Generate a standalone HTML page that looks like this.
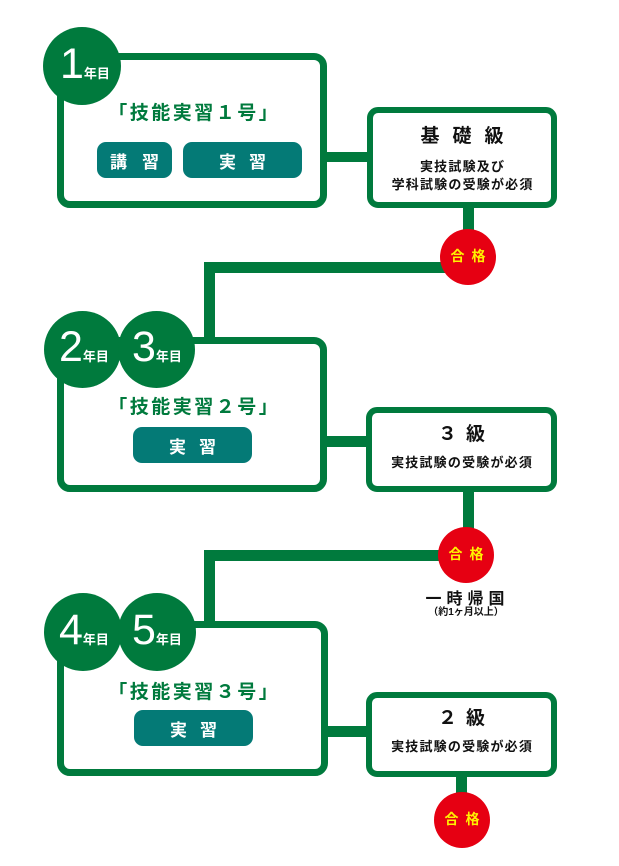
<!DOCTYPE html>
<html><head><meta charset="utf-8">
<style>
*{margin:0;padding:0;box-sizing:border-box}
html,body{width:619px;height:866px;background:#fff;overflow:hidden}
body{position:relative;font-family:"Liberation Sans","Noto Sans CJK JP",sans-serif}
.g{position:absolute;background:#007a3d}
.box{position:absolute;border:7px solid #007a3d;border-radius:13px;background:#fff}
.sbox{position:absolute;border:6px solid #007a3d;border-radius:11px;background:#fff}
.c{position:absolute;border-radius:50%;background:#007a3d}
.yr{position:absolute;height:43px;line-height:43px;font-size:43px;color:#fff;white-space:nowrap;font-family:"Liberation Sans",sans-serif}
.yr span{font-family:"Liberation Sans","Noto Sans CJK JP",sans-serif;font-size:13px;font-weight:bold;line-height:1}
.ttl{position:absolute;left:57px;width:272px;height:24px;line-height:24px;text-align:center;color:#007a3d;font-weight:bold;font-size:19px;letter-spacing:2.5px;padding-left:2.5px;white-space:nowrap}
.btn{position:absolute;height:36px;border-radius:9px;background:#047a76;color:#fff;font-weight:bold;font-size:17px;display:flex;align-items:center;justify-content:center;white-space:nowrap}
.ok{position:absolute;width:56px;height:56px;border-radius:50%;background:#e60012;color:#fff100;font-weight:bold;font-size:14px;display:flex;align-items:center;justify-content:center;letter-spacing:7px;padding-left:7px;padding-bottom:3px;white-space:nowrap}
.t{position:absolute;text-align:center;color:#111;font-weight:bold;white-space:nowrap}
.h{font-size:19px;height:24px;line-height:24px}
.s{font-size:13px;line-height:18px;letter-spacing:1.2px;padding-left:1.2px}
</style></head><body>

<!-- connectors -->
<div class="g" style="left:320px;top:152px;width:50px;height:10px"></div>
<div class="g" style="left:320px;top:436px;width:50px;height:11px"></div>
<div class="g" style="left:320px;top:726px;width:50px;height:11px"></div>
<div class="g" style="left:463px;top:200px;width:11px;height:40px"></div>
<div class="g" style="left:463px;top:485px;width:11px;height:50px"></div>
<div class="g" style="left:456px;top:770px;width:11px;height:30px"></div>
<div class="g" style="left:204px;top:262px;width:250px;height:11px"></div>
<div class="g" style="left:204px;top:262px;width:11px;height:80px"></div>
<div class="g" style="left:204px;top:550px;width:250px;height:11px"></div>
<div class="g" style="left:204px;top:550px;width:11px;height:75px"></div>

<!-- big boxes -->
<div class="box" style="left:57px;top:53px;width:270px;height:155px"></div>
<div class="box" style="left:57px;top:337px;width:270px;height:155px"></div>
<div class="box" style="left:57px;top:621px;width:271px;height:155px"></div>

<!-- small boxes -->
<div class="sbox" style="left:367px;top:107px;width:190px;height:101px"></div>
<div class="sbox" style="left:366px;top:407px;width:191px;height:85px"></div>
<div class="sbox" style="left:366px;top:692px;width:191px;height:85px"></div>

<!-- year circles -->
<div class="c" style="left:43px;top:27px;width:78px;height:78px"></div>
<div class="c" style="left:44px;top:311px;width:77px;height:77px"></div>
<div class="c" style="left:118px;top:311px;width:77px;height:77px"></div>
<div class="c" style="left:44px;top:593px;width:78px;height:78px"></div>
<div class="c" style="left:118px;top:593px;width:78px;height:78px"></div>

<div class="yr" style="left:60px;top:43px">1<span>年目</span></div>
<div class="yr" style="left:59px;top:326px">2<span>年目</span></div>
<div class="yr" style="left:132px;top:326px">3<span>年目</span></div>
<div class="yr" style="left:59px;top:609px">4<span>年目</span></div>
<div class="yr" style="left:132px;top:609px">5<span>年目</span></div>

<!-- titles -->
<div class="ttl" style="top:102px">「技能実習１号」</div>
<div class="ttl" style="top:396px">「技能実習２号」</div>
<div class="ttl" style="top:681px">「技能実習３号」</div>

<!-- buttons -->
<div class="btn" style="left:97px;top:142px;width:75px;letter-spacing:15px;padding-left:15px">講習</div>
<div class="btn" style="left:183px;top:142px;width:119px;letter-spacing:13px;padding-left:13px">実習</div>
<div class="btn" style="left:133px;top:427px;width:119px;letter-spacing:13px;padding-left:13px">実習</div>
<div class="btn" style="left:134px;top:710px;width:119px;letter-spacing:13px;padding-left:13px">実習</div>

<!-- small box texts -->
<div class="t h" style="left:367px;width:190px;top:125px;letter-spacing:13px;padding-left:13px">基礎級</div>
<div class="t s" style="left:367px;width:190px;top:158px">実技試験及び<br>学科試験の受験が必須</div>

<div class="t h" style="left:366px;width:191px;top:423px;letter-spacing:9px;padding-left:9px">３級</div>
<div class="t s" style="left:366px;width:191px;top:454px">実技試験の受験が必須</div>

<div class="t h" style="left:366px;width:191px;top:707px;letter-spacing:9px;padding-left:9px">２級</div>
<div class="t s" style="left:366px;width:191px;top:738px">実技試験の受験が必須</div>

<!-- pass circles -->
<div class="ok" style="left:440px;top:229px">合格</div>
<div class="ok" style="left:438px;top:527px">合格</div>
<div class="ok" style="left:434px;top:792px">合格</div>

<div class="t" style="left:365px;width:200px;top:589px;height:22px;line-height:22px;font-size:16px;letter-spacing:5px;padding-left:5px">一時帰国</div>
<div class="t" style="left:366px;width:200px;top:606px;height:14px;line-height:14px;font-size:10px">（約1ヶ月以上）</div>

</body></html>
